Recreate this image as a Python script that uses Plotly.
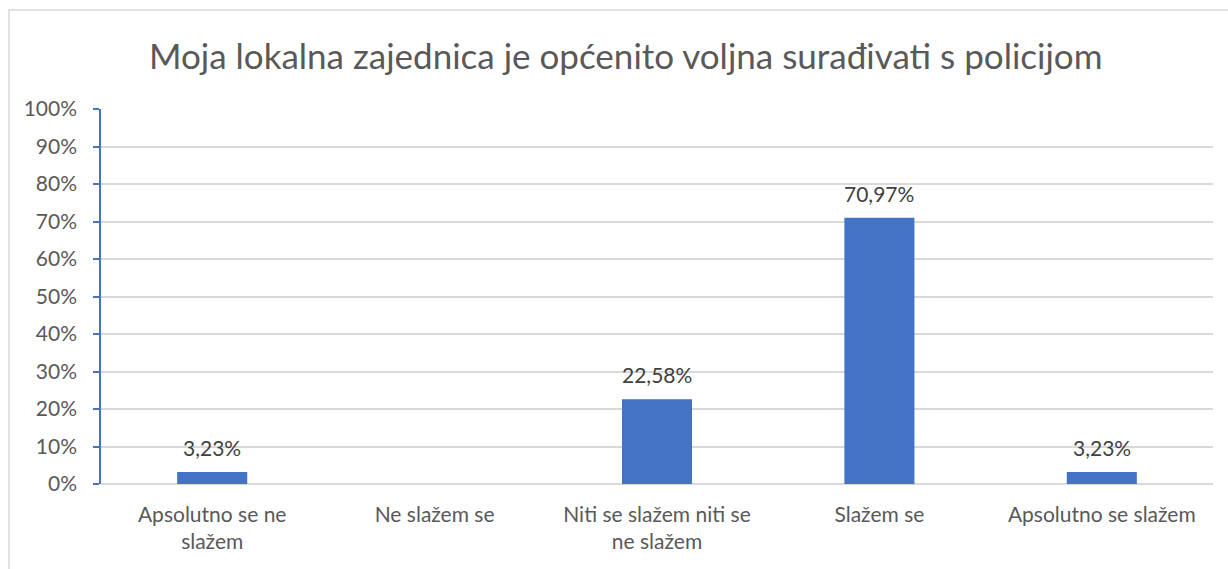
import plotly.graph_objects as go

categories = ["Apsolutno se ne slažem", "Ne slažem se", "Niti se slažem niti se ne slažem", "Slažem se", "Apsolutno se slažem"]
tick_labels = ["Apsolutno se ne<br>slažem", "Ne slažem se", "Niti se slažem niti se<br>ne slažem", "Slažem se", "Apsolutno se slažem"]
values = [0.0323, 0.0, 0.2258, 0.7097, 0.0323]
title = "Moja lokalna zajednica je općenito voljna surađivati s policijom"

FONT = "Lato"
W, H = 1228, 569
ml, mr, mt, mb = 101, 15, 109, 85
pw, ph = W - ml - mr, H - mt - mb

fig = go.Figure()
fig.add_trace(go.Bar(
    x=categories, y=values,
    marker=dict(color="#4472C4", line=dict(width=0)),
    width=0.315, hoverinfo="skip",
))

annotations = []
for c, v in zip(categories, values):
    if v > 0:
        annotations.append(dict(
            x=c, y=v, xref="x", yref="y",
            text=f"{v*100:.2f}%".replace(".", ","),
            showarrow=False, yanchor="bottom", yshift=10,
            font=dict(family=FONT, size=21, color="#404040"),
        ))

annotations.append(dict(
    x=(625 - ml) / pw, y=1 + (mt - 55) / ph, xref="paper", yref="paper",
    text=title, showarrow=False, xanchor="center", yanchor="middle",
    font=dict(family=FONT, size=35, color="#595959"),
))

fig.update_layout(
    width=W, height=H,
    margin=dict(l=ml, r=mr, t=mt, b=mb, autoexpand=False),
    paper_bgcolor="white", plot_bgcolor="white",
    showlegend=False,
    annotations=annotations,
    shapes=[dict(type="rect", xref="paper", yref="paper",
                 x0=(9 - ml) / pw, x1=(1240 - ml) / pw,
                 y0=-(mb + 20) / ph, y1=1 + (mt - 10) / ph,
                 line=dict(color="#d9d9d9", width=1.5), layer="below")],
    font=dict(family=FONT, size=20, color="#595959"),
)

fig.update_xaxes(
    type="category", tickvals=categories, ticktext=tick_labels,
    showline=False, showgrid=False, ticks="",
    tickfont=dict(family=FONT, size=21, color="#595959"),
    ticklabelstandoff=16,
    range=[-0.5, 4.5],
)
fig.update_yaxes(
    range=[0, 1], dtick=0.1, tickformat=".0%",
    showgrid=True, gridcolor="#d9d9d9", gridwidth=1.5,
    zeroline=True, zerolinecolor="#d9d9d9", zerolinewidth=1.5,
    showline=True, linecolor="#4472C4", linewidth=1.5,
    ticks="outside", tickcolor="#4472C4", ticklen=6, tickwidth=1.5,
    ticklabelstandoff=12,
    tickfont=dict(family=FONT, size=21, color="#595959"),
)

fig.write_html("out.html", config={"displayModeBar": False},
               post_script="document.body.style.margin='0';document.body.style.padding='0';")
